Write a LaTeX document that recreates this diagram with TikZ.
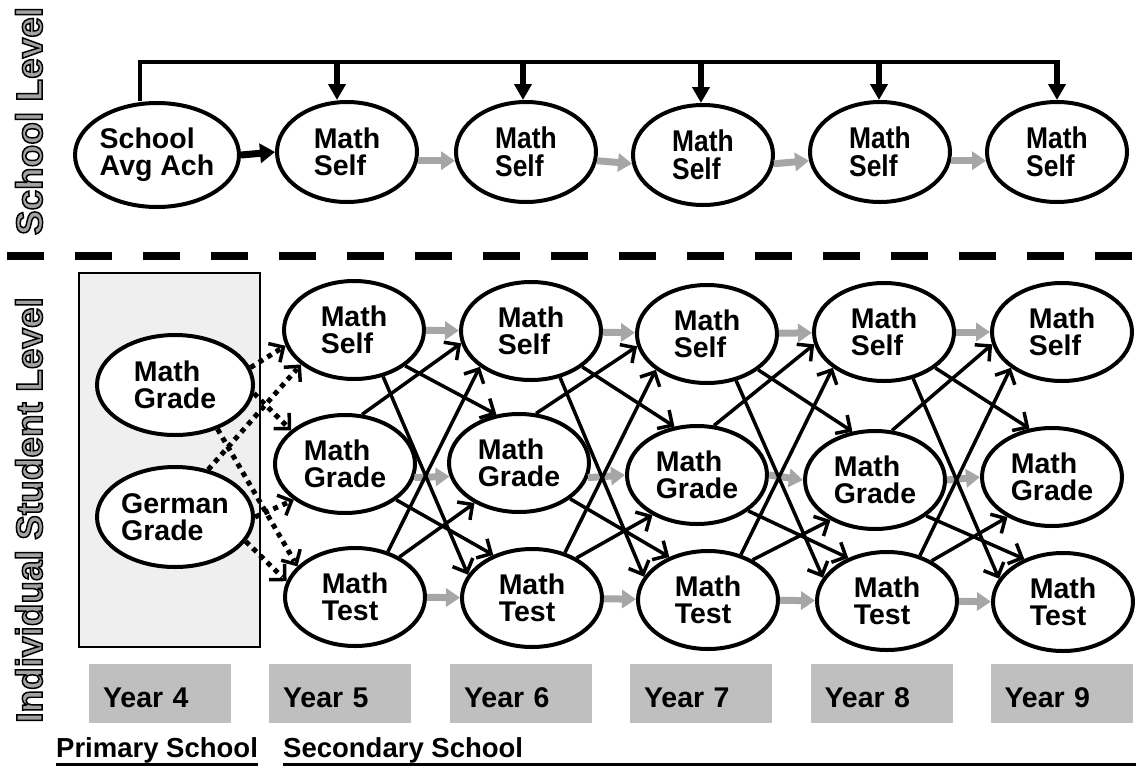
\documentclass[tikz,border=0pt]{standalone}
\usepackage{fontspec}
\usepackage{graphicx}
\setmainfont{Liberation Sans}
\newfontfamily\outlinefont{Liberation Sans}[FakeBold=4]
\usetikzlibrary{shapes.geometric,arrows.meta,calc}
\definecolor{arrowgray}{HTML}{A6A6A6}
\definecolor{yeargray}{HTML}{BFBFBF}
\definecolor{boxgray}{HTML}{EFEFEF}
\definecolor{labelgray}{HTML}{A3A3A3}
\newcommand\strokeblack{\special{pdf:literal direct 0 G}}
\newcommand\cn[1]{\scalebox{0.88}[1]{#1}}
\begin{document}
\begin{tikzpicture}[x=1pt,y=-1pt,
  lat/.style={ellipse, draw, line width=4pt, fill=white, inner sep=0pt, align=left,
     minimum width=140pt, minimum height=98pt,
     font=\fontsize{28.5}{27}\selectfont\bfseries},
  condlat/.style={lat, minimum height=100pt, font=\fontsize{30}{28.5}\selectfont\bfseries},
  vlabel/.style={rotate=90, inner sep=0pt, text=labelgray,
     font=\outlinefont\fontsize{37}{37}\selectfont\bfseries},
  yearbox/.style={fill=yeargray, minimum height=59pt, text width=114pt, inner xsep=14pt,
     inner ysep=0pt, align=left, text height=28pt, text depth=0pt,
     font=\fontsize{28.5}{28}\selectfont\bfseries},
  schoollabel/.style={inner sep=0pt, anchor=base west, font=\fontsize{27.5}{27}\selectfont\bfseries},
  xarrow/.style={line width=3.5pt, -{Straight Barb[length=11pt,width=22pt]}},
  dotline/.style={line width=5pt, dash pattern=on 5pt off 5pt},
  dottip/.style={line width=3.5pt, -{Straight Barb[length=11pt,width=22pt]}},
  grayarrow/.style={line width=7pt, draw=arrowgray, -{Triangle[length=14pt,width=18pt]}},
  blackarrow/.style={line width=7pt, -{Triangle[length=15pt,width=19pt]}},
  droparrow/.style={line width=5.5pt, -{Triangle[length=16pt,width=17pt]}},
  busline/.style={line width=4.5pt}
]
\useasboundingbox (0,0) rectangle (1136,769);

% side labels
\node[vlabel] (lblschool) at (29,121) {\strokeblack School Level};
\node[vlabel] (lblstudent) at (29,510) {\strokeblack Individual Student Level};

% separator
\draw[line width=8pt, dash pattern=on 37pt off 31pt] (7,256) -- (1136,256);

% school level
\node[lat, minimum width=164pt, minimum height=104pt] (sa) at (157,155) {School\\Avg Ach};
\node[lat, minimum height=100pt] (ms1) at (347,152) {Math\\Self};
\node[condlat] (ms2) at (526,152) {\cn{Math}\\\cn{Self}};
\node[condlat] (ms3) at (703,155) {\cn{Math}\\\cn{Self}};
\node[condlat] (ms4) at (880,152) {\cn{Math}\\\cn{Self}};
\node[condlat] (ms5) at (1057,152) {\cn{Math}\\\cn{Self}};

\coordinate (busL) at (140,62);
\coordinate (busR) at (1057,62);
\coordinate (d1) at (337,60);
\coordinate (d2) at (523,60);
\coordinate (d3) at (701,60);
\coordinate (d4) at (879,60);
\coordinate (d5) at (1057,60);
\draw[busline] (busL |- sa.north) -- (busL) -- (busR);
\foreach \i in {1,...,5}{
  \draw[droparrow] (d\i) -- (d\i |- ms\i.north);
}
\draw[blackarrow] (sa.east) -- (ms1.west);
\draw[grayarrow] (ms1.-7) -- (ms2.187);
\draw[grayarrow] (ms2.-7) -- (ms3.187);
\draw[grayarrow] (ms3.-7) -- (ms4.187);
\draw[grayarrow] (ms4.-7) -- (ms5.187);

% primary school box
\node[draw, fill=boxgray, line width=2pt, minimum width=181pt, minimum height=374pt, inner sep=0pt] (primbox) at (169.5,460) {};
\node[lat, minimum width=156pt, minimum height=100pt] (mg4) at (175,385) {Math\\Grade};
\node[lat, minimum width=156pt, minimum height=100pt] (gg4) at (175,517) {German\\Grade};

% student level
\node[lat] (s1) at (354,330) {Math\\Self};
\node[lat] (g1) at (345,464) {Math\\Grade};
\node[lat] (t1) at (355,597) {Math\\Test};
\node[lat] (s2) at (531,331) {Math\\Self};
\node[lat] (g2) at (519,463) {Math\\Grade};
\node[lat] (t2) at (532,598) {Math\\Test};
\node[lat] (s3) at (707,334) {Math\\Self};
\node[lat] (g3) at (697,475) {Math\\Grade};
\node[lat] (t3) at (708,600) {Math\\Test};
\node[lat] (s4) at (884,332) {Math\\Self};
\node[lat] (g4) at (875,480) {Math\\Grade};
\node[lat] (t4) at (887,601) {Math\\Test};
\node[lat] (s5) at (1062,332) {Math\\Self};
\node[lat] (g5) at (1052,477) {Math\\Grade};
\node[lat] (t5) at (1063,602) {Math\\Test};

% autoregressive (gray)
\foreach \a/\b in {1/2,2/3,3/4,4/5}{
  \draw[grayarrow] (s\a) -- (s\b);
  \draw[grayarrow] (t\a) -- (t\b);
}
\draw[grayarrow] (g1.-11) -- (g2.191);
\draw[grayarrow] (g2.-12) -- (g3.west);
\draw[grayarrow] (g3.east) -- (g4.west);
\draw[grayarrow] (g4.east) -- (g5.west);

% cross-lagged (black)
\foreach \a/\b in {1/2,2/3,3/4,4/5}{
  \draw[xarrow] (s\a.-35) -- (g\b.115);
  \draw[xarrow] (s\a.-58) -- (t\b.160);
  \draw[xarrow] (g\a.71) -- (s\b.190);
  \draw[xarrow] (g\a.-35) -- (t\b.132);
  \draw[xarrow] (t\a.54) -- (s\b.215);
  \draw[xarrow] (t\a.42) -- (g\b.222);
}

% dotted from year 4
\foreach \src/\dst in {mg4.13/s1.193, gg4.55/s1.213, mg4.-6/g1.148, gg4.0/g1.215, mg4.-46/t1.152, gg4.-19/t1.167}{
  \draw[dotline] (\src) -- ($(\dst)!6pt!(\src)$);
  \draw[dottip] ($(\dst)!2pt!(\src)$) -- (\dst);
}

% year boxes
\node[yearbox] (y4) at (160,693.5) {Year 4};
\node[yearbox] (y5) at (340,693.5) {Year 5};
\node[yearbox] (y6) at (521,693.5) {Year 6};
\node[yearbox] (y7) at (701,693.5) {Year 7};
\node[yearbox] (y8) at (881.5,693.5) {Year 8};
\node[yearbox] (y9) at (1061.5,693.5) {Year 9};

% school type labels
\coordinate (rightedge) at (1136,0);
\node[schoollabel] (prim) at (56,757) {Primary School};
\node[schoollabel] (sec) at (283,757) {Secondary School};
\draw[line width=3pt] ([yshift=-1.5pt]prim.south west) -- ([yshift=-1.5pt]prim.south east);
\draw[line width=3pt] ([yshift=-1.5pt]sec.south west) -- ([yshift=-1.5pt]sec.south west -| rightedge);
\end{tikzpicture}
\end{document}
